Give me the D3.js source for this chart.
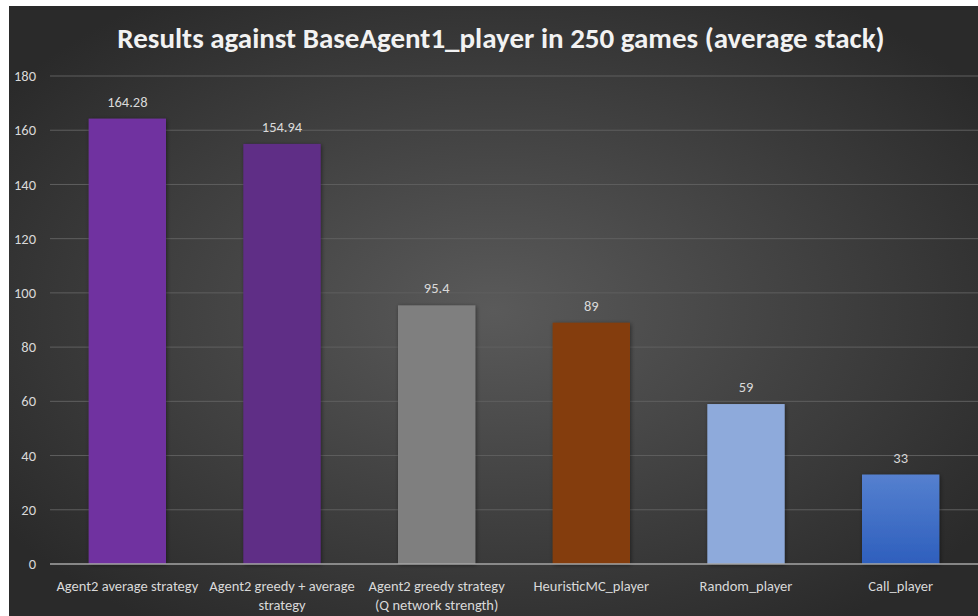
<!DOCTYPE html>
<html>
<head>
<meta charset="utf-8">
<script src="https://cdn.jsdelivr.net/npm/d3@7"></script>
<style>
  html, body { margin: 0; padding: 0; background: #ffffff; }
  svg { display: block; }
  text { font-family: Carlito, Calibri, Lato, "Open Sans", sans-serif; }
</style>
</head>
<body>
<svg id="chart" width="978" height="616"></svg>
<script>
// "\n" marks where the original label wraps
let categories = ["Agent2 average strategy", "Agent2 greedy + average\nstrategy",
  "Agent2 greedy strategy\n(Q network strength)", "HeuristicMC_player", "Random_player", "Call_player"];
let values = [164.28, 154.94, 95.4, 89, 59, 33];
let valueLabels = ["164.28", "154.94", "95.4", "89", "59", "33"];
let yTicks = [0, 20, 40, 60, 80, 100, 120, 140, 160, 180];
let barColors = ["#7030a0", "#5f2e86", "#7f7f7f", "#843c0c", "#8eaadb", "url(#blueGrad)"];
let title = "Results against BaseAgent1_player in 250 games (average stack)";

let width = 978, height = 616;
let svg = d3.select("#chart");
let defs = svg.append("defs");

let bg = defs.append("radialGradient").attr("id", "bgGrad")
  .attr("cx", "50%").attr("cy", "50%").attr("r", "62%");
bg.append("stop").attr("offset", "0%").attr("stop-color", "#5a5a5a");
bg.append("stop").attr("offset", "100%").attr("stop-color", "#2a2a2a");

let blue = defs.append("linearGradient").attr("id", "blueGrad")
  .attr("x1", 0).attr("y1", 0).attr("x2", 0).attr("y2", 1);
blue.append("stop").attr("offset", "0%").attr("stop-color", "#5580cf");
blue.append("stop").attr("offset", "100%").attr("stop-color", "#2e5fbd");

let shadow = defs.append("filter").attr("id", "shadow")
  .attr("x", "-10%").attr("y", "-10%").attr("width", "130%").attr("height", "130%");
shadow.append("feDropShadow").attr("dx", 1).attr("dy", 1).attr("stdDeviation", 2)
  .attr("flood-color", "#000").attr("flood-opacity", 0.45);

svg.append("rect").attr("x", 9).attr("y", 6).attr("width", width - 9).attr("height", height - 6)
  .attr("fill", "url(#bgGrad)");

let x = d3.scaleBand().domain(categories).range([50, 978]).paddingInner(0.5).paddingOuter(0.25);
let y = d3.scaleLinear().domain([0, 180]).range([564, 76]);

// gridlines
svg.append("g").selectAll("line")
  .data(yTicks.filter(d => d > 0))
  .join("line")
  .attr("x1", 50).attr("x2", 978)
  .attr("y1", d => y(d)).attr("y2", d => y(d))
  .attr("stroke", "#5f5f5f").attr("stroke-width", 1);

// y tick labels
svg.append("g").selectAll("text")
  .data(yTicks)
  .join("text")
  .attr("x", 36).attr("y", d => y(d)).attr("dy", "0.35em")
  .attr("text-anchor", "end")
  .attr("fill", "#d9d9d9").attr("font-size", 14.5)
  .text(d => d);

// bars
svg.append("g").selectAll("rect")
  .data(values)
  .join("rect")
  .attr("x", (d, i) => x(categories[i]))
  .attr("width", x.bandwidth())
  .attr("y", d => y(d))
  .attr("height", d => y(0) - y(d))
  .attr("fill", (d, i) => barColors[i])
  .attr("filter", "url(#shadow)");

// axis line
svg.append("line")
  .attr("x1", 50).attr("x2", 978).attr("y1", y(0)).attr("y2", y(0))
  .attr("stroke", "#a6a6a6").attr("stroke-width", 1.5);

// value labels
svg.append("g").selectAll("text")
  .data(values)
  .join("text")
  .attr("x", (d, i) => x(categories[i]) + x.bandwidth() / 2)
  .attr("y", d => y(d) - 12)
  .attr("text-anchor", "middle")
  .attr("fill", "#d9d9d9").attr("font-size", 14.5)
  .text((d, i) => valueLabels[i]);

// category labels
svg.append("g").selectAll("text")
  .data(categories)
  .join("text")
  .attr("y", 591)
  .attr("text-anchor", "middle")
  .attr("fill", "#d9d9d9").attr("font-size", 14.5)
  .each(function(c) {
    let cx = x(c) + x.bandwidth() / 2;
    d3.select(this).selectAll("tspan")
      .data(c.split("\n"))
      .join("tspan")
      .attr("x", cx)
      .attr("dy", (d, i) => i === 0 ? 0 : 19)
      .text(d => d);
  });

// title
svg.append("text")
  .attr("x", 501).attr("y", 48)
  .attr("text-anchor", "middle")
  .attr("fill", "#f2f2f2").attr("font-size", 29).attr("font-weight", "bold")
  .text(title);
</script>
</body>
</html>
